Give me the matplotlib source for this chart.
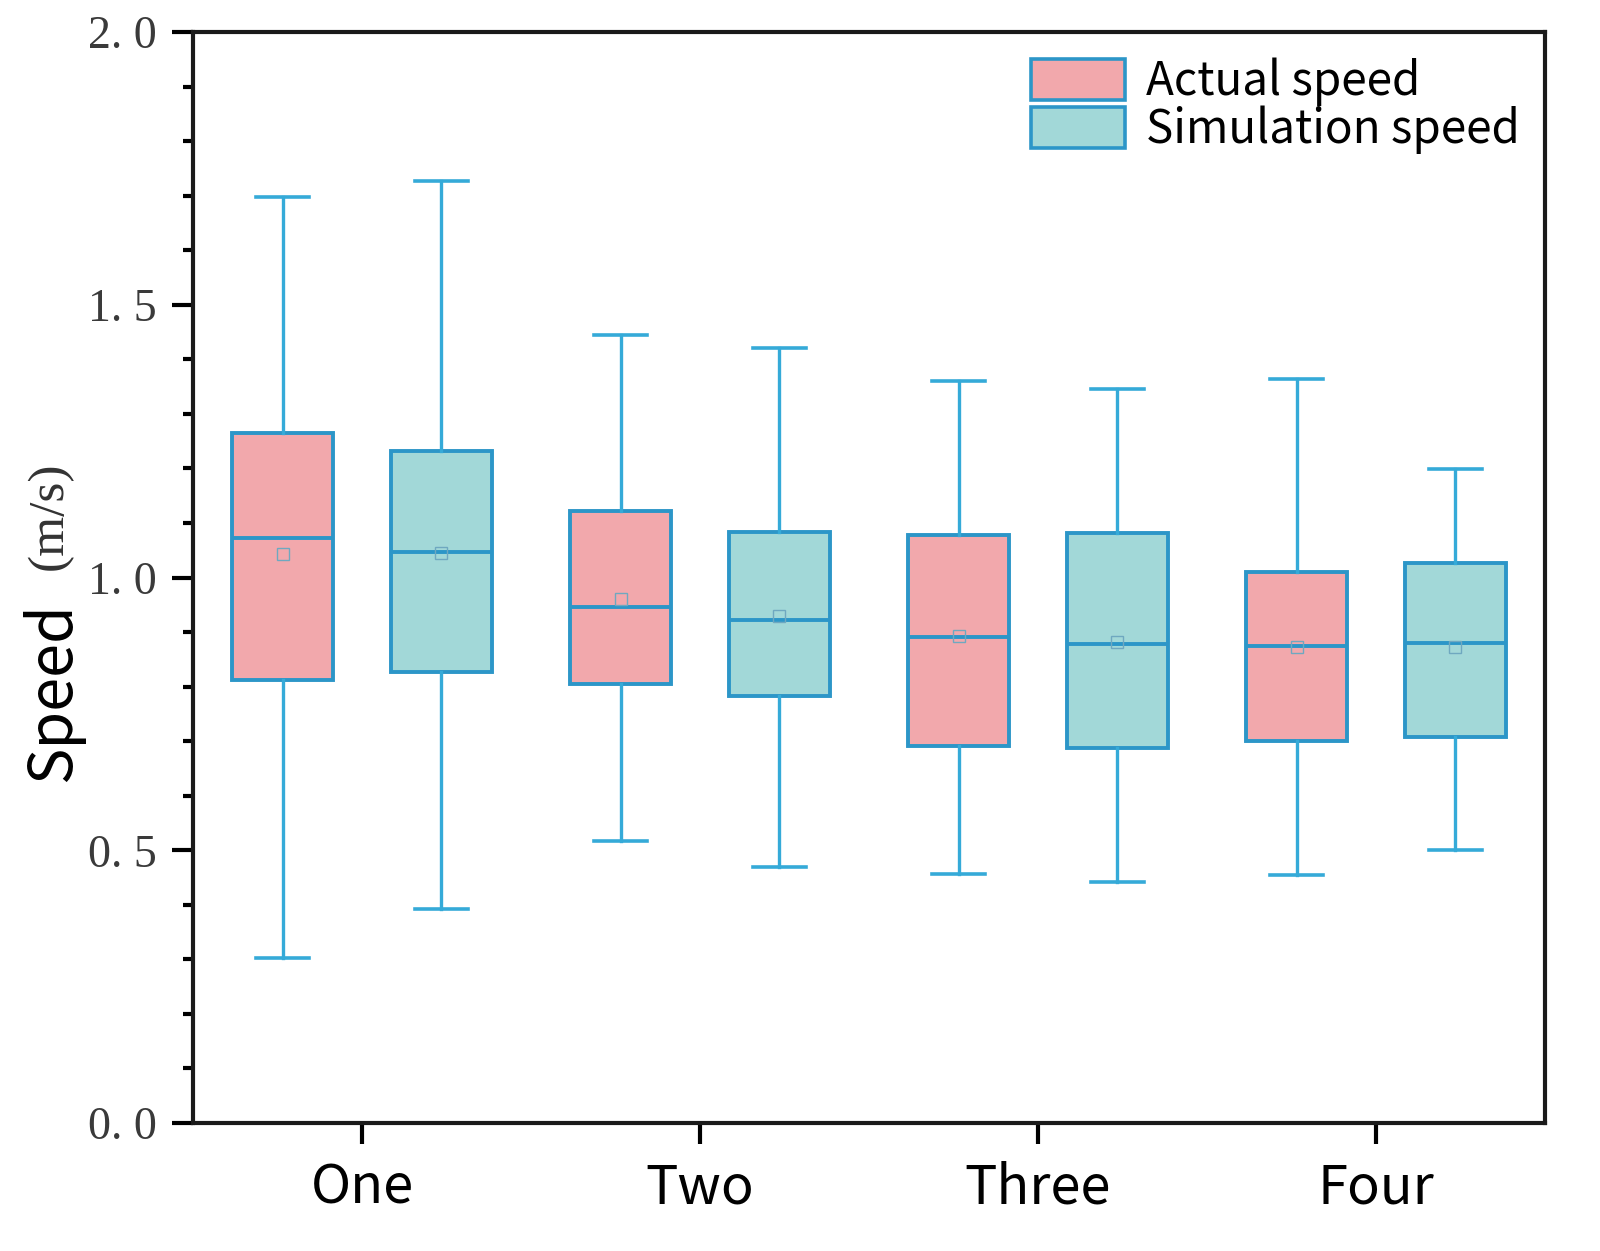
import numpy as np
import matplotlib.pyplot as plt
from matplotlib.patches import Patch
from matplotlib.ticker import MultipleLocator

# data
groups = ['One', 'Two', 'Three', 'Four']
series = ['Actual speed', 'Simulation speed']

actual_whislo = [0.302, 0.517, 0.456, 0.455]
actual_q1 = [0.812, 0.805, 0.691, 0.700]
actual_med = [1.072, 0.946, 0.891, 0.874]
actual_mean = [1.043, 0.961, 0.893, 0.873]
actual_q3 = [1.265, 1.122, 1.078, 1.010]
actual_whishi = [1.698, 1.445, 1.360, 1.364]

sim_whislo = [0.392, 0.469, 0.442, 0.500]
sim_q1 = [0.827, 0.783, 0.687, 0.708]
sim_med = [1.047, 0.922, 0.878, 0.880]
sim_mean = [1.045, 0.929, 0.882, 0.873]
sim_q3 = [1.232, 1.083, 1.082, 1.027]
sim_whishi = [1.727, 1.421, 1.346, 1.199]

fills = ['#F2A8AC', '#A2D8D8']
edge = '#2C96C8'
whisk = '#35AAD8'
sans = ['Noto Sans CJK SC', 'DejaVu Sans']


def make_stats(lo, q1, med, mean, q3, hi):
    return [dict(whislo=a, q1=b, med=c, mean=d, q3=e, whishi=f, fliers=[])
            for a, b, c, d, e, f in zip(lo, q1, med, mean, q3, hi)]


stats = [make_stats(actual_whislo, actual_q1, actual_med, actual_mean, actual_q3, actual_whishi),
         make_stats(sim_whislo, sim_q1, sim_med, sim_mean, sim_q3, sim_whishi)]

fig = plt.figure(figsize=(16, 12.51), dpi=100)
ax = fig.add_axes([0.1206, 0.1023, 0.845, 0.8721])

x = np.arange(1, len(groups) + 1)
offsets = [-0.235, 0.235]
for i in range(2):
    ax.bxp(stats[i], positions=x + offsets[i], widths=0.30, capwidths=0.155,
           patch_artist=True, showmeans=True, manage_ticks=False,
           boxprops=dict(facecolor=fills[i], edgecolor=edge, linewidth=2.8),
           medianprops=dict(color=edge, linewidth=2.8),
           whiskerprops=dict(color=whisk, linewidth=2.4),
           capprops=dict(color=whisk, linewidth=2.6),
           meanprops=dict(marker='s', markersize=8, markerfacecolor='none',
                          markeredgecolor='#6FA8C0', markeredgewidth=1.0))

ax.set_xlim(0.5, 4.5)
ax.set_ylim(0, 2.0)
ax.set_xticks(x)
ax.set_xticklabels(groups, fontsize=39, family=sans)
ax.yaxis.set_minor_locator(MultipleLocator(0.1))
ax.set_yticks([0, 0.5, 1.0, 1.5, 2.0])
ax.set_yticklabels(['0. 0', '0. 5', '1. 0', '1. 5', '2. 0'],
                   fontsize=33, family='Liberation Serif', color='#3a3a3a')
ax.tick_params(axis='both', which='major', direction='out', length=15, width=3)
ax.tick_params(axis='y', which='minor', direction='out', length=7.5, width=3)
ax.tick_params(axis='y', which='major', pad=11)
ax.tick_params(axis='x', pad=12)
for sp in ax.spines.values():
    sp.set_linewidth(3)
    sp.set_color('#1a1a1a')

ax.text(-0.104, 0.313, 'Speed', transform=ax.transAxes, rotation=90,
        fontsize=44, family=sans, fontweight='medium',
        ha='center', va='bottom')
ax.text(-0.106, 0.507, '(m/s)', transform=ax.transAxes, rotation=90,
        fontsize=37, family='Liberation Serif', color='#333333',
        ha='center', va='bottom')

handles = [Patch(facecolor=fills[i], edgecolor=edge, linewidth=2.6, label=series[i])
           for i in range(2)]
ax.legend(handles=handles, loc='upper right', frameon=False,
          prop=dict(family=sans, size=33), handlelength=2.05, handleheight=1.0,
          handletextpad=0.45, labelspacing=0.0, borderaxespad=0.15)

fig.savefig('out.png', dpi=100)
